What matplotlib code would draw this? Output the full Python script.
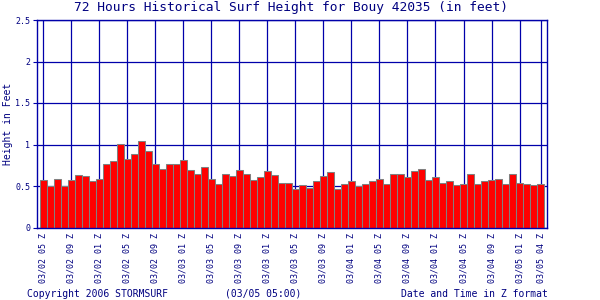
import matplotlib
matplotlib.use("Agg")
import matplotlib.pyplot as plt

heights = [0.57, 0.50, 0.59, 0.50, 0.57, 0.63, 0.62, 0.56, 0.59, 0.76,
           0.80, 1.01, 0.83, 0.88, 1.04, 0.92, 0.76, 0.70, 0.76, 0.76,
           0.81, 0.69, 0.64, 0.73, 0.58, 0.53, 0.64, 0.62, 0.69, 0.64,
           0.57, 0.61, 0.68, 0.63, 0.54, 0.54, 0.46, 0.51, 0.47, 0.56,
           0.62, 0.67, 0.46, 0.53, 0.56, 0.50, 0.52, 0.56, 0.58, 0.53,
           0.64, 0.64, 0.61, 0.68, 0.71, 0.57, 0.61, 0.54, 0.56, 0.51,
           0.53, 0.64, 0.52, 0.56, 0.57, 0.59, 0.53, 0.65, 0.54, 0.52,
           0.51, 0.53]
tick_idx = [0, 4, 8, 12, 16, 20, 24, 28, 32, 36, 40, 44, 48, 52, 56, 60, 64, 68, 71]
tick_labels = ["03/02 05 Z", "03/02 09 Z", "03/02 01 Z", "03/02 05 Z", "03/02 09 Z",
               "03/03 01 Z", "03/03 05 Z", "03/03 09 Z", "03/03 01 Z", "03/03 05 Z",
               "03/03 09 Z", "03/04 01 Z", "03/04 05 Z", "03/04 09 Z", "03/04 01 Z",
               "03/04 05 Z", "03/04 09 Z", "03/05 01 Z", "03/05 04 Z"]
y_ticks = [0, 0.5, 1, 1.5, 2, 2.5]
y_labels = ["0", "0.5", "1", "1.5", "2", "2.5"]

BLUE = "#0000AA"
TXT = "#000080"
FONT = "DejaVu Sans Mono"
plt.rcParams['font.family'] = [FONT]

fig = plt.figure(figsize=(6, 3), dpi=100)
ax = fig.add_axes([36.7 / 600, 1 - 227.5 / 300, 509.8 / 600, 207.5 / 300])

xs = list(range(len(heights)))
ax.bar(xs, heights, width=1.0, color="#FF0000", edgecolor="#808080",
       linewidth=0.75, zorder=3)

ax.set_xlim(-0.94, 71.85)
ax.set_ylim(0, 2.5)
ax.set_xticks(tick_idx)
ax.set_xticklabels(tick_labels, rotation=90, fontsize=6, color=TXT)
ax.set_yticks(y_ticks)
ax.set_yticklabels(y_labels, fontsize=6, color=TXT)
ax.tick_params(axis='x', length=0, pad=4)
ax.tick_params(axis='y', length=3, width=0.8, color=BLUE, pad=1.5)
ax.grid(True, color=BLUE, linewidth=0.9, zorder=1)
ax.set_axisbelow(True)
for s in ax.spines.values():
    s.set_color(BLUE)
    s.set_linewidth(1.0)
    s.set_zorder(4)

fig.text(291 / 600, 1 - 8 / 300, "72 Hours Historical Surf Height for Bouy 42035 (in feet)",
         ha='center', va='center', fontsize=9.3, color=TXT)
fig.text(8 / 600, 1 - 124 / 300, "Height in Feet", rotation=90, ha='center',
         va='center', fontsize=7, color=TXT)
fig.text(27 / 600, 1 - 294 / 300, "Copyright 2006 STORMSURF", ha='left',
         va='center', fontsize=7, color=TXT)
fig.text(225 / 600, 1 - 294 / 300, "(03/05 05:00)", ha='left',
         va='center', fontsize=7, color=TXT)
fig.text(548 / 600, 1 - 294 / 300, "Date and Time in Z format", ha='right',
         va='center', fontsize=7, color=TXT)

fig.savefig("out.png", dpi=100, facecolor="white")
